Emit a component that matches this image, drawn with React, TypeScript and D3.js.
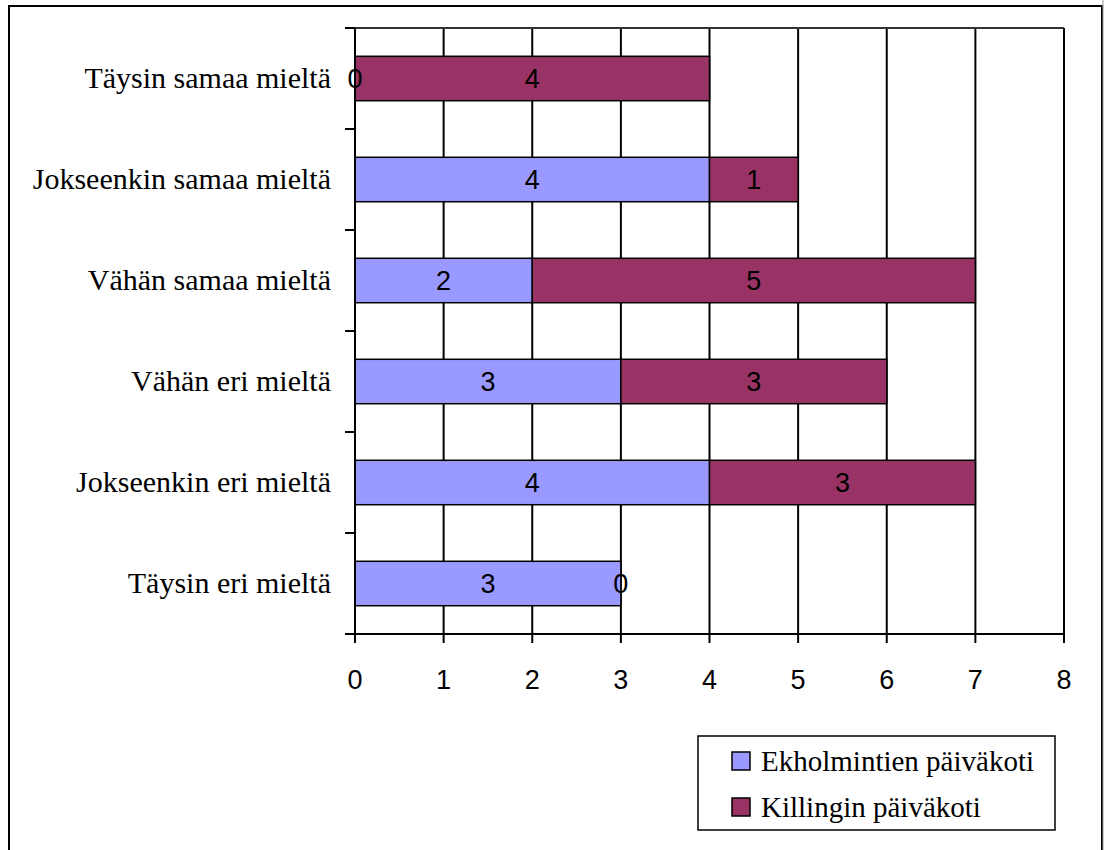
import React from "react";
import * as d3 from "d3";

const categories = [
  "Täysin samaa mieltä",
  "Jokseenkin samaa mieltä",
  "Vähän samaa mieltä",
  "Vähän eri mieltä",
  "Jokseenkin eri mieltä",
  "Täysin eri mieltä",
];
const ekholmintien = [0, 4, 2, 3, 4, 3];
const killingin = [4, 1, 5, 3, 3, 0];
const seriesNames = ["Ekholmintien päiväkoti", "Killingin päiväkoti"];
const seriesColors = ["#9999FF", "#993366"];
const xTicks = [0, 1, 2, 3, 4, 5, 6, 7, 8];

export default function App() {
  const left = 355, right = 1064, top = 28, bottom = 634;
  const x = d3.scaleLinear().domain([0, 8]).range([left, right]);
  const y = d3.scaleBand().domain(categories).range([top, bottom]).paddingInner(0.56).paddingOuter(0.28);
  const band = (bottom - top) / categories.length;
  const series = [ekholmintien, killingin];
  const serif = "'Liberation Serif', 'Times New Roman', serif";
  const sans = "'Liberation Sans', Arial, sans-serif";

  return (
    <svg width={1104} height={850} style={{ position: "absolute", left: 0, top: 0, background: "#fff" }}>
      <rect x={9} y={6} width={1093} height={860} fill="white" stroke="black" strokeWidth={2} />
      <line x1={1103} y1={0} x2={1103} y2={850} stroke="#999" strokeWidth={1} />
      {/* gridlines */}
      {xTicks.map((t) => (
        <line key={"g" + t} x1={x(t)} x2={x(t)} y1={top} y2={bottom} stroke="black" strokeWidth={2} />
      ))}
      <line x1={left} x2={right} y1={top} y2={top} stroke="#333" strokeWidth={2} />
      {/* bars */}
      {categories.map((c, i) => {
        let acc = 0;
        return series.map((s, j) => {
          const x0 = x(acc);
          acc += s[i];
          const x1 = x(acc);
          return (
            <rect key={c + j} x={x0} y={y(c)!} width={x1 - x0} height={y.bandwidth()}
              fill={seriesColors[j]} stroke="black" strokeWidth={1.5} />
          );
        });
      })}
      {/* data labels */}
      {categories.map((c, i) => {
        let acc = 0;
        return series.map((s, j) => {
          const x0 = acc;
          acc += s[i];
          const cx = x((x0 + acc) / 2);
          return (
            <text key={"l" + c + j} x={cx} y={y(c)! + y.bandwidth() / 2} dy="0.36em" textAnchor="middle"
              fontFamily={sans} fontSize={27} fill="black">{s[i]}</text>
          );
        });
      })}
      {/* axes */}
      <line x1={left} x2={left} y1={top} y2={bottom} stroke="black" strokeWidth={2} />
      <line x1={left - 10} x2={right} y1={bottom} y2={bottom} stroke="black" strokeWidth={2} />
      {d3.range(categories.length + 1).map((k) => (
        <line key={"yt" + k} x1={left - 10} x2={left} y1={top + k * band} y2={top + k * band} stroke="black" strokeWidth={2} />
      ))}
      {xTicks.map((t) => (
        <g key={"xt" + t}>
          <line x1={x(t)} x2={x(t)} y1={bottom} y2={bottom + 9} stroke="black" strokeWidth={2} />
          <text x={x(t)} y={679} dy="0.36em" textAnchor="middle" fontFamily={sans} fontSize={27}>{t}</text>
        </g>
      ))}
      {categories.map((c) => (
        <text key={"c" + c} x={331} y={y(c)! + y.bandwidth() / 2} dy="0.33em" textAnchor="end"
          fontFamily={serif} fontSize={30}>{c}</text>
      ))}
      {/* legend */}
      <rect x={698} y={736} width={357} height={94} fill="white" stroke="black" strokeWidth={1.5} />
      {seriesNames.map((n, j) => (
        <g key={"lg" + n}>
          <rect x={732} y={752 + j * 46} width={18} height={18} fill={seriesColors[j]} stroke="black" strokeWidth={1.5} />
          <text x={761} y={761 + j * 46} dy="0.35em" fontFamily={serif} fontSize={29}>{n}</text>
        </g>
      ))}
    </svg>
  );
}
